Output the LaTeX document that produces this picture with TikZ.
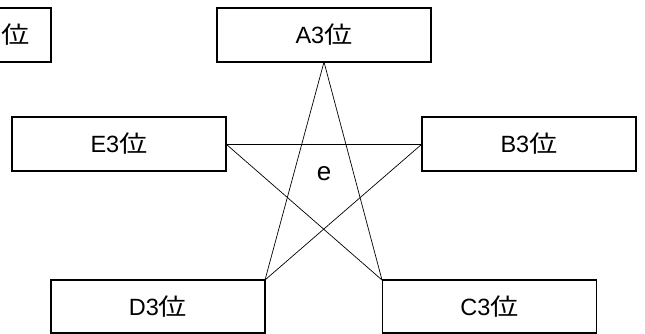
\documentclass[tikz,border=0pt]{standalone}
\usepackage{fontspec}
\setmainfont{Liberation Sans}
\newfontfamily\cjk[FakeStretch=1.2]{Noto Sans CJK JP}
\begin{document}
\begin{tikzpicture}[x=1pt,y=-1pt,
  boxstyle/.style={draw=black,line width=1.3pt,minimum width=214pt,minimum height=54pt,inner sep=0pt,fill=white},
  linkstyle/.style={draw=black,line width=0.7pt},
  lbl/.style={font=\fontsize{23.5}{24}\selectfont}]
\useasboundingbox (0,0) rectangle (645,334);
% connectors first
\coordinate (Ab) at (324,62);
\coordinate (Er) at (226,144);
\coordinate (Bl) at (422,144);
\coordinate (Dtr) at (265,280);
\coordinate (Ctl) at (382,280);
\draw[linkstyle] (Ab) -- (Dtr);
\draw[linkstyle] (Ab) -- (Ctl);
\draw[linkstyle] (Er) -- (Bl);
\draw[linkstyle] (Er) -- (Ctl);
\draw[linkstyle] (Bl) -- (Dtr);
% boxes
\begin{scope}
\clip (0,0) rectangle (645,334);
\draw[line width=1.3pt] (-20,8) -- (51,8) -- (51,62) -- (-20,62);
\end{scope}
\node[lbl] (px) at (16,35) {\cjk 位};
\node[boxstyle,lbl] (A) at (324,35) {A3{\cjk 位}};
\node[boxstyle,lbl] (E) at (119,144) {E3{\cjk 位}};
\node[boxstyle,lbl] (B) at (529,144) {B3{\cjk 位}};
\node[boxstyle,lbl,minimum height=53pt] (D) at (158,306.5) {D3{\cjk 位}};
\node[boxstyle,lbl,minimum height=53pt] (C) at (489.5,306.5) {C3{\cjk 位}};
\node[font=\fontsize{26}{26}\selectfont] (e) at (324,174) {e};
\end{tikzpicture}
\end{document}
